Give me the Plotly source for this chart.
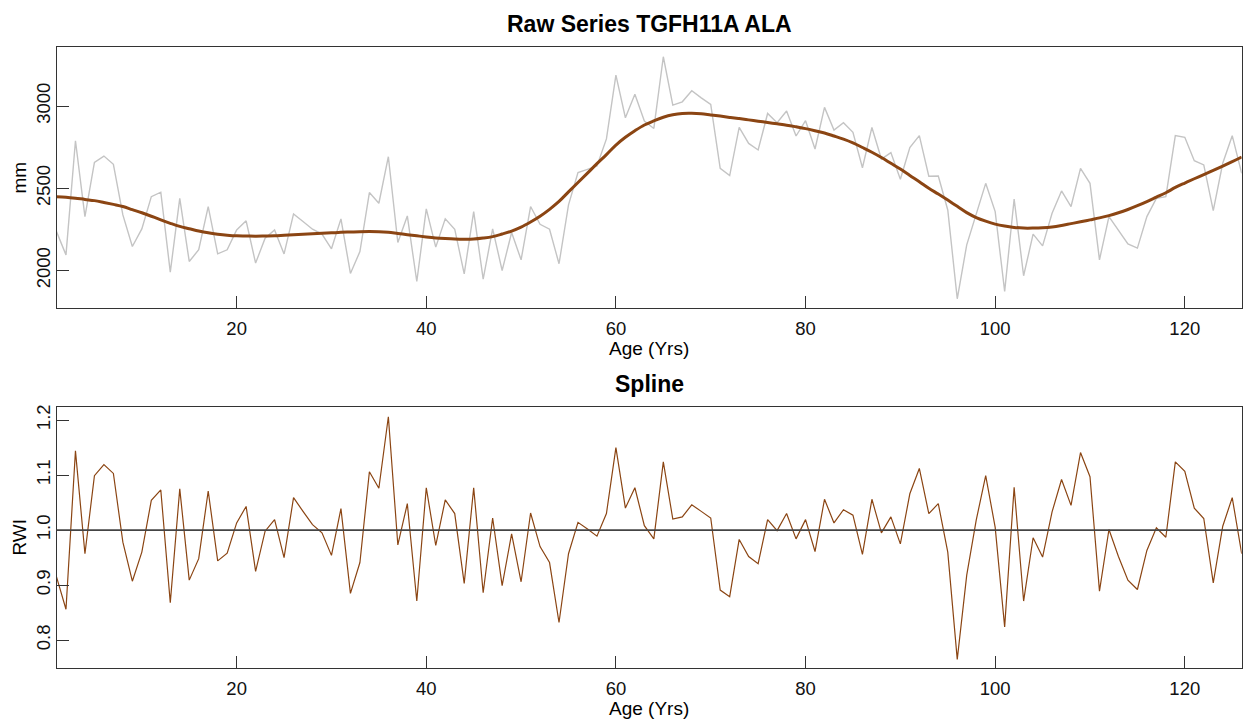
import plotly.graph_objects as go

age = list(range(1, 127))

raw_mm = [
    2237, 2095, 2789, 2328, 2658, 2696, 2646, 2338, 2146, 2253,
    2449, 2476, 1990, 2439, 2055, 2126, 2389, 2101, 2126, 2247,
    2302, 2045, 2196, 2247, 2101, 2344, 2298, 2251, 2221, 2132,
    2314, 1982, 2115, 2474, 2409, 2692, 2170, 2332, 1933, 2375,
    2142, 2314, 2251, 1980, 2358, 1947, 2253, 2000, 2231, 2065,
    2389, 2281, 2251, 2041, 2399, 2595, 2615, 2636, 2800, 3188,
    2929, 3072, 2909, 2864, 3300, 3006, 3026, 3093, 3050, 3010,
    2621, 2577, 2870, 2773, 2733, 2955, 2899, 2970, 2818, 2911,
    2739, 2992, 2854, 2899, 2840, 2625, 2870, 2678, 2717, 2555,
    2747, 2820, 2573, 2575, 2368, 1828, 2156, 2348, 2530, 2358,
    1873, 2435, 1968, 2221, 2150, 2348, 2484, 2389, 2621, 2530,
    2065, 2328, 2241, 2162, 2136, 2328, 2439, 2449, 2820, 2810,
    2668, 2642, 2364, 2652, 2820, 2591,
]

spline_mm = [
    2449, 2446, 2440, 2432, 2425, 2414, 2402, 2389, 2370, 2351,
    2330, 2308, 2287, 2268, 2254, 2240, 2229, 2221, 2215, 2211,
    2210, 2209, 2210, 2211, 2214, 2217, 2220, 2223, 2226, 2229,
    2232, 2234, 2236, 2237, 2236, 2232, 2225, 2218, 2211, 2204,
    2198, 2194, 2191, 2190, 2191, 2197, 2206, 2222, 2240, 2264,
    2295, 2330, 2372, 2420, 2478, 2535, 2592, 2650, 2705, 2763,
    2810, 2850, 2885, 2910, 2932, 2947, 2955, 2956, 2953, 2946,
    2939, 2931, 2924, 2916, 2908, 2900, 2892, 2884, 2874, 2863,
    2850, 2836, 2818, 2799, 2776, 2748, 2719, 2687, 2652, 2617,
    2578, 2540, 2500, 2465, 2428, 2390, 2352, 2322, 2300, 2282,
    2270, 2262, 2258, 2258, 2260, 2265, 2274, 2285, 2296, 2308,
    2320, 2334, 2351, 2371, 2394, 2419, 2446, 2473, 2505, 2532,
    2558, 2583, 2609, 2635, 2662, 2690,
]

rwi = [
    0.915, 0.856, 1.144, 0.957, 1.099, 1.119, 1.103, 0.978, 0.907, 0.960,
    1.054, 1.073, 0.868, 1.075, 0.909, 0.948, 1.071, 0.944, 0.958, 1.013,
    1.043, 0.925, 0.998, 1.019, 0.950, 1.059, 1.034, 1.010, 0.995, 0.954,
    1.039, 0.885, 0.941, 1.106, 1.076, 1.206, 0.973, 1.048, 0.871, 1.077,
    0.972, 1.055, 1.030, 0.903, 1.077, 0.886, 1.022, 0.899, 0.993, 0.906,
    1.031, 0.970, 0.941, 0.832, 0.957, 1.014, 1.002, 0.989, 1.030, 1.150,
    1.040, 1.077, 1.008, 0.984, 1.124, 1.020, 1.024, 1.046, 1.034, 1.022,
    0.891, 0.879, 0.983, 0.952, 0.939, 1.019, 0.999, 1.030, 0.984, 1.019,
    0.961, 1.056, 1.013, 1.037, 1.027, 0.956, 1.056, 0.995, 1.024, 0.975,
    1.066, 1.112, 1.030, 1.048, 0.960, 0.765, 0.918, 1.018, 1.099, 1.005,
    0.824, 1.078, 0.871, 0.986, 0.951, 1.033, 1.092, 1.045, 1.141, 1.097,
    0.889, 1.001, 0.952, 0.909, 0.892, 0.963, 1.004, 0.987, 1.124, 1.107,
    1.040, 1.021, 0.904, 1.007, 1.059, 0.957,
]

x_ticks = [20, 40, 60, 80, 100, 120]
raw_ticks = [2000, 2500, 3000]
rwi_ticks = [0.8, 0.9, 1.0, 1.1, 1.2]
rwi_ticktext = ["0.8", "0.9", "1.0", "1.1", "1.2"]

W, H = 1243, 720
FONT = "Liberation Sans, Arial, sans-serif"
BROWN = "#8B4513"

fig = go.Figure()
fig.add_trace(go.Scatter(x=age, y=raw_mm, mode="lines",
                         line=dict(color="#C4C4C4", width=1.4),
                         xaxis="x", yaxis="y", showlegend=False))
fig.add_trace(go.Scatter(x=age, y=spline_mm, mode="lines",
                         line=dict(color=BROWN, width=3, shape="spline"),
                         xaxis="x", yaxis="y", showlegend=False))
fig.add_trace(go.Scatter(x=age, y=rwi, mode="lines",
                         line=dict(color=BROWN, width=1.2),
                         xaxis="x2", yaxis="y2", showlegend=False))

x0, x1 = 56.5 / W, 1241.7 / W
top_dom = [(H - 307) / H, (H - 45) / H]
bot_dom = [(H - 668) / H, (H - 406) / H]

axis_common = dict(
    showline=True, mirror=True, linecolor="#333333", linewidth=1.2,
    ticks="inside", ticklen=12, tickwidth=1.2, tickcolor="#333333",
    showgrid=False, zeroline=False,
    tickfont=dict(family=FONT, size=18.5, color="#111111"),
)

fig.update_layout(
    width=W, height=H,
    margin=dict(l=0, r=0, t=0, b=0),
    paper_bgcolor="white", plot_bgcolor="white",
    xaxis=dict(domain=[x0, x1], range=[1, 126], tickvals=x_ticks,
               anchor="y", ticklabelstandoff=4, **axis_common),
    yaxis=dict(domain=top_dom, range=[1771, 3360], tickvals=raw_ticks,
               anchor="x", tickangle=-90, ticklabelstandoff=-2, **axis_common),
    xaxis2=dict(domain=[x0, x1], range=[1, 126], tickvals=x_ticks,
                anchor="y2", ticklabelstandoff=4, **axis_common),
    yaxis2=dict(domain=bot_dom, range=[0.749, 1.224], tickvals=rwi_ticks,
                ticktext=rwi_ticktext, anchor="x2", tickangle=-90,
                ticklabelstandoff=-2, **axis_common),
)

fig.add_shape(type="line", xref="x2 domain", yref="y2", x0=0, x1=1, y0=1, y1=1,
              line=dict(color="#444444", width=1.6))

cx = (56.5 + 1241.7) / 2 / W
ann = [
    dict(text="<b>Raw Series TGFH11A ALA</b>", x=cx, y=(H - 22) / H, size=23),
    dict(text="<b>Spline</b>", x=cx, y=(H - 383) / H, size=23),
    dict(text="Age (Yrs)", x=cx, y=(H - 347) / H, size=19),
    dict(text="Age (Yrs)", x=cx, y=(H - 708) / H, size=19),
]
for a in ann:
    fig.add_annotation(text=a["text"], x=a["x"], y=a["y"], xref="paper", yref="paper",
                       showarrow=False, xanchor="center", yanchor="middle",
                       font=dict(family=FONT, size=a["size"], color="#000000"))
for txt, yc in [("mm", (H - 176) / H), ("RWI", (H - 537) / H)]:
    fig.add_annotation(text=txt, x=20 / W, y=yc, xref="paper", yref="paper",
                       showarrow=False, xanchor="center", yanchor="middle", textangle=-90,
                       font=dict(family=FONT, size=19, color="#000000"))

fig.write_html("out.html")
